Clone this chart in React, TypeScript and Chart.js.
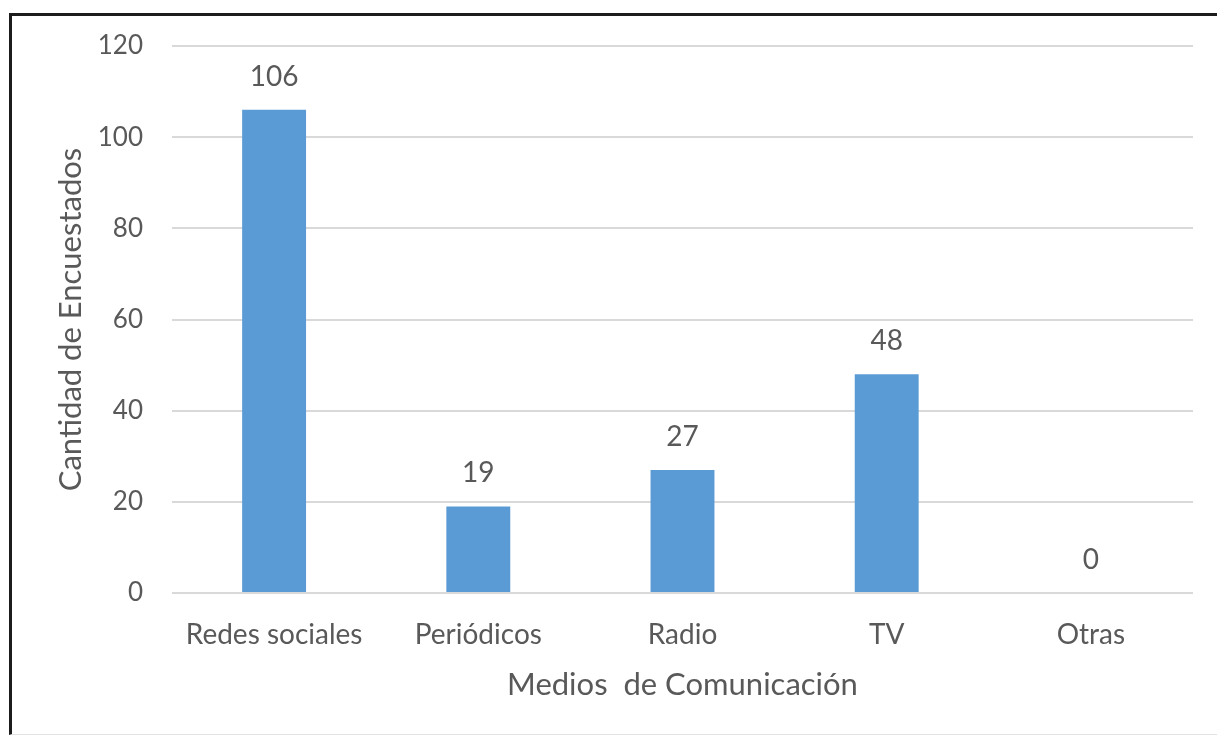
import React, { useEffect, useRef } from "react";
import { Chart, registerables } from "chart.js";

Chart.register(...registerables);

const categories = ["Redes sociales", "Periódicos", "Radio", "TV", "Otras"];
const values = [106, 19, 27, 48, 0];
const yTicks = [0, 20, 40, 60, 80, 100, 120];

const FONT = "Lato, 'Carlito', Calibri, sans-serif";
const TEXT = "#595959";

const valueLabels = {
  id: "valueLabels",
  afterDatasetsDraw(chart: any) {
    const ctx = chart.ctx;
    const meta = chart.getDatasetMeta(0);
    ctx.save();
    ctx.font = `28px ${FONT}`;
    ctx.fillStyle = TEXT;
    ctx.textAlign = "center";
    ctx.textBaseline = "middle";
    meta.data.forEach((bar: any, i: number) => {
      ctx.fillText(String(chart.data.datasets[0].data[i]), bar.x, bar.y - 33);
    });
    ctx.restore();
  },
};

export default function App() {
  const ref = useRef<HTMLCanvasElement>(null);
  useEffect(() => {
    if (!ref.current) return;
    const chart = new Chart(ref.current, {
      type: "bar",
      data: {
        labels: categories,
        datasets: [
          {
            data: values,
            backgroundColor: "#5B9BD5",
            borderWidth: 0,
            barPercentage: 0.313,
            categoryPercentage: 1,
          },
        ],
      },
      options: {
        animation: false,
        responsive: false,
        maintainAspectRatio: false,
        layout: { padding: { left: 0, top: 46, right: 24, bottom: 0 } },
        plugins: {
          legend: { display: false },
          tooltip: { enabled: false },
        },
        scales: {
          x: {
            grid: { display: false },
            border: { display: false },
            ticks: {
              color: TEXT,
              font: { family: FONT, size: 28 },
              padding: 17,
              maxRotation: 0,
              autoSkip: false,
            },
            title: {
              display: true,
              text: "Medios  de Comunicación",
              color: TEXT,
              font: { family: FONT, size: 31 },
              padding: { top: 0, bottom: 33 },
            },
            afterFit(scale: any) {
              scale.height = 144;
            },
          },
          y: {
            min: 0,
            max: 120,
            afterBuildTicks(scale: any) {
              scale.ticks = yTicks.map((v) => ({ value: v }));
            },
            grid: { color: "#D9D9D9", lineWidth: 2, drawTicks: false },
            border: { display: false },
            ticks: {
              color: TEXT,
              font: { family: FONT, size: 26 },
              padding: 29,
            },
            title: {
              display: true,
              text: "Cantidad de Encuestados",
              color: TEXT,
              font: { family: FONT, size: 31 },
              padding: { top: 52, bottom: 0 },
            },
            afterFit(scale: any) {
              scale.width = 172;
            },
          },
        },
      },
      plugins: [valueLabels],
    });
    return () => chart.destroy();
  }, []);

  return (
    <div style={{ position: "fixed", left: 0, top: 0, width: 1217, height: 737, background: "#fff", overflow: "hidden" }}>
      <div
        style={{
          position: "absolute",
          left: 9,
          top: 13,
          width: 1300,
          height: 718,
          borderTop: "3px solid #1c1c1c",
          borderLeft: "3px solid #1c1c1c",
          borderBottom: "1px solid #e2e2e2",
        }}
      />
      <canvas ref={ref} width={1217} height={737} style={{ position: "absolute", left: 0, top: 0 }} />
    </div>
  );
}
